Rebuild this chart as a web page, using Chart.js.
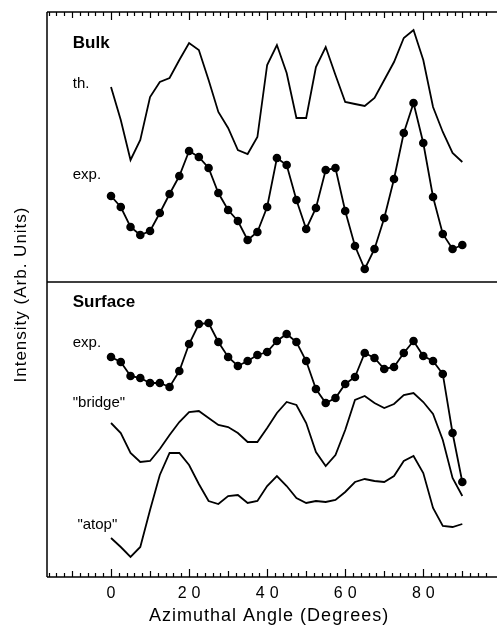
<!DOCTYPE html>
<html>
<head>
<meta charset="utf-8">
<script src="https://cdn.jsdelivr.net/npm/chart.js@4/dist/chart.umd.min.js"></script>
<style>
  html, body { margin: 0; padding: 0; background: #fff; }
  #wrap { width: 497px; height: 627px; }
</style>
</head>
<body>
<div id="wrap"><canvas id="azChart" width="497" height="627"></canvas></div>
<script>
// azimuthal angle of each measured / computed point (degrees)
const angles = [0, 2.5, 5, 7.5, 10, 12.5, 15, 17.5, 20, 22.5, 25, 27.5, 30, 32.5, 35, 37.5, 40, 42.5,
  45, 47.5, 50, 52.5, 55, 57.5, 60, 62.5, 65, 67.5, 70, 72.5, 75, 77.5, 80, 82.5, 85, 87.5, 90];

// intensities, arbitrary units (curves are offset vertically as in the figure)
const bulkTheory = [490, 457, 417, 437, 480, 495, 499, 517, 534, 527, 497, 465, 449, 427, 423, 440, 512, 532,
  504, 459, 459, 510, 530, 502, 475, 473, 471, 479, 497, 515, 539, 547, 517, 470, 445, 424, 415];
const bulkExp = [381, 370, 350, 342, 346, 364, 383, 401, 426, 420, 409, 384, 367, 356, 337, 345, 370, 419,
  412, 377, 348, 369, 407, 409, 366, 331, 308, 328, 359, 398, 444, 474, 434, 380, 343, 328, 332];
const surfaceExp = [220, 215, 201, 199, 194, 194, 190, 206, 233, 253, 254, 235, 220, 211, 216, 222, 225, 236,
  243, 235, 216, 188, 174, 179, 193, 200, 224, 219, 208, 210, 224, 236, 221, 216, 203, 144, 95];
const bridgeCalc = [154, 144, 124, 115, 116, 128, 142, 155, 165, 166, 159, 152, 150, 144, 135, 135, 149, 164,
  175, 172, 154, 125, 111, 122, 147, 177, 181, 174, 169, 173, 182, 184, 175, 163, 137, 99, 81];
const atopCalc = [39, 30, 20, 30, 67, 102, 124, 124, 112, 93, 76, 73, 81, 82, 74, 76, 91, 101,
  91, 79, 74, 76, 75, 77, 85, 95, 98, 96, 95, 101, 116, 121, 104, 69, 51, 50, 53];

const panelLabels = ['Bulk', 'th.', 'exp.', 'Surface', 'exp.', '"bridge"', '"atop"'];
const xTickLabels = ['0', '20', '40', '60', '80'];
const dividerLevel = 295; // line separating bulk and surface panels

const xMin = -16.4, xMax = 97.4;

function pts(ys) {
  return angles.map(function(a, i) { return { x: a, y: ys[i] }; });
}

// frame, inward ticks, divider, panel labels and spaced tick numbers
const framePlugin = {
  id: 'frame',
  beforeDraw(chart) {
    // the original lettering is a little wider than Arial
    chart.ctx.letterSpacing = '1px';
  },
  afterDraw(chart) {
    const ctx = chart.ctx;
    const xs = chart.scales.x, ys = chart.scales.y;
    const a = chart.chartArea;
    ctx.save();
    ctx.strokeStyle = '#000';
    ctx.lineWidth = 1.5;
    ctx.beginPath();
    ctx.moveTo(a.left, a.top); ctx.lineTo(chart.width, a.top);
    ctx.moveTo(a.left, a.top); ctx.lineTo(a.left, a.bottom);
    ctx.moveTo(a.left, a.bottom); ctx.lineTo(chart.width, a.bottom);
    const dy = ys.getPixelForValue(dividerLevel);
    ctx.moveTo(a.left, dy); ctx.lineTo(chart.width, dy);
    ctx.stroke();

    ctx.lineWidth = 1.2;
    ctx.beginPath();
    for (let v = -16; v <= 96; v += 2) {
      const px = Math.round(xs.getPixelForValue(v)) + 0.5;
      let len = 4;
      if (v % 20 === 0) len = 8;
      else if (v % 10 === 0) len = 6;
      ctx.moveTo(px, a.top); ctx.lineTo(px, a.top + len);
      ctx.moveTo(px, a.bottom); ctx.lineTo(px, a.bottom - len);
    }
    ctx.stroke();

    // tick numbers
    ctx.fillStyle = '#000';
    ctx.font = '16px "Liberation Sans", Arial, sans-serif';
    ctx.textAlign = 'center';
    ctx.textBaseline = 'alphabetic';
    ctx.letterSpacing = '5px';
    xTickLabels.forEach(function(t) {
      const px = xs.getPixelForValue(Number(t));
      ctx.fillText(t, px + 2.5, 598);
    });
    ctx.letterSpacing = '0px';

    // panel labels
    ctx.textAlign = 'left';
    const spots = [
      [-9.8, 529, 'bold 17px'], [-9.8, 489, '15px'], [-9.8, 398, '15px'],
      [-9.8, 270, 'bold 17px'], [-9.8, 230, '15px'], [-9.8, 170, '15px'], [-8.6, 48, '15px']
    ];
    panelLabels.forEach(function(t, i) {
      const s = spots[i];
      ctx.font = s[2] + ' "Liberation Sans", Arial, sans-serif';
      ctx.fillText(t, xs.getPixelForValue(s[0]), ys.getPixelForValue(s[1]));
    });
    ctx.restore();
    ctx.letterSpacing = '0px';
  }
};

const lineStyle = {
  borderColor: '#000',
  backgroundColor: '#000',
  borderWidth: 1.8,
  tension: 0,
  fill: false
};

const ctx = document.getElementById('azChart').getContext('2d');
const chart = new Chart(ctx, {
  type: 'line',
  data: {
    datasets: [
      Object.assign({ label: 'bulk th.', data: pts(bulkTheory), pointRadius: 0 }, lineStyle),
      Object.assign({ label: 'bulk exp.', data: pts(bulkExp), pointRadius: 3.4 }, lineStyle),
      Object.assign({ label: 'surface exp.', data: pts(surfaceExp), pointRadius: 3.4 }, lineStyle),
      Object.assign({ label: 'bridge', data: pts(bridgeCalc), pointRadius: 0 }, lineStyle),
      Object.assign({ label: 'atop', data: pts(atopCalc), pointRadius: 0 }, lineStyle)
    ]
  },
  options: {
    responsive: false,
    animation: false,
    devicePixelRatio: 1,
    layout: { padding: { top: 12, right: 0, left: 0, bottom: 0 } },
    plugins: { legend: { display: false }, tooltip: { enabled: false } },
    elements: { point: { borderWidth: 0 } },
    scales: {
      x: {
        type: 'linear',
        min: xMin,
        max: xMax,
        grid: { display: false, drawTicks: false },
        border: { display: false },
        ticks: { display: false },
        title: {
          display: true,
          text: 'Azimuthal Angle (Degrees)',
          color: '#000',
          font: { family: '"Liberation Sans", Arial, sans-serif', size: 18 },
          padding: { top: 21, bottom: 0 }
        },
        afterFit(scale) { scale.height = 50; }
      },
      y: {
        min: 0,
        max: 565,
        grid: { display: false, drawTicks: false },
        border: { display: false },
        ticks: { display: false },
        title: {
          display: true,
          text: 'Intensity (Arb. Units)',
          color: '#000',
          font: { family: '"Liberation Sans", Arial, sans-serif', size: 17 },
          padding: { top: 11, bottom: 0 }
        },
        afterFit(scale) { scale.width = 47; }
      }
    }
  },
  plugins: [framePlugin]
});
</script>
</body>
</html>
